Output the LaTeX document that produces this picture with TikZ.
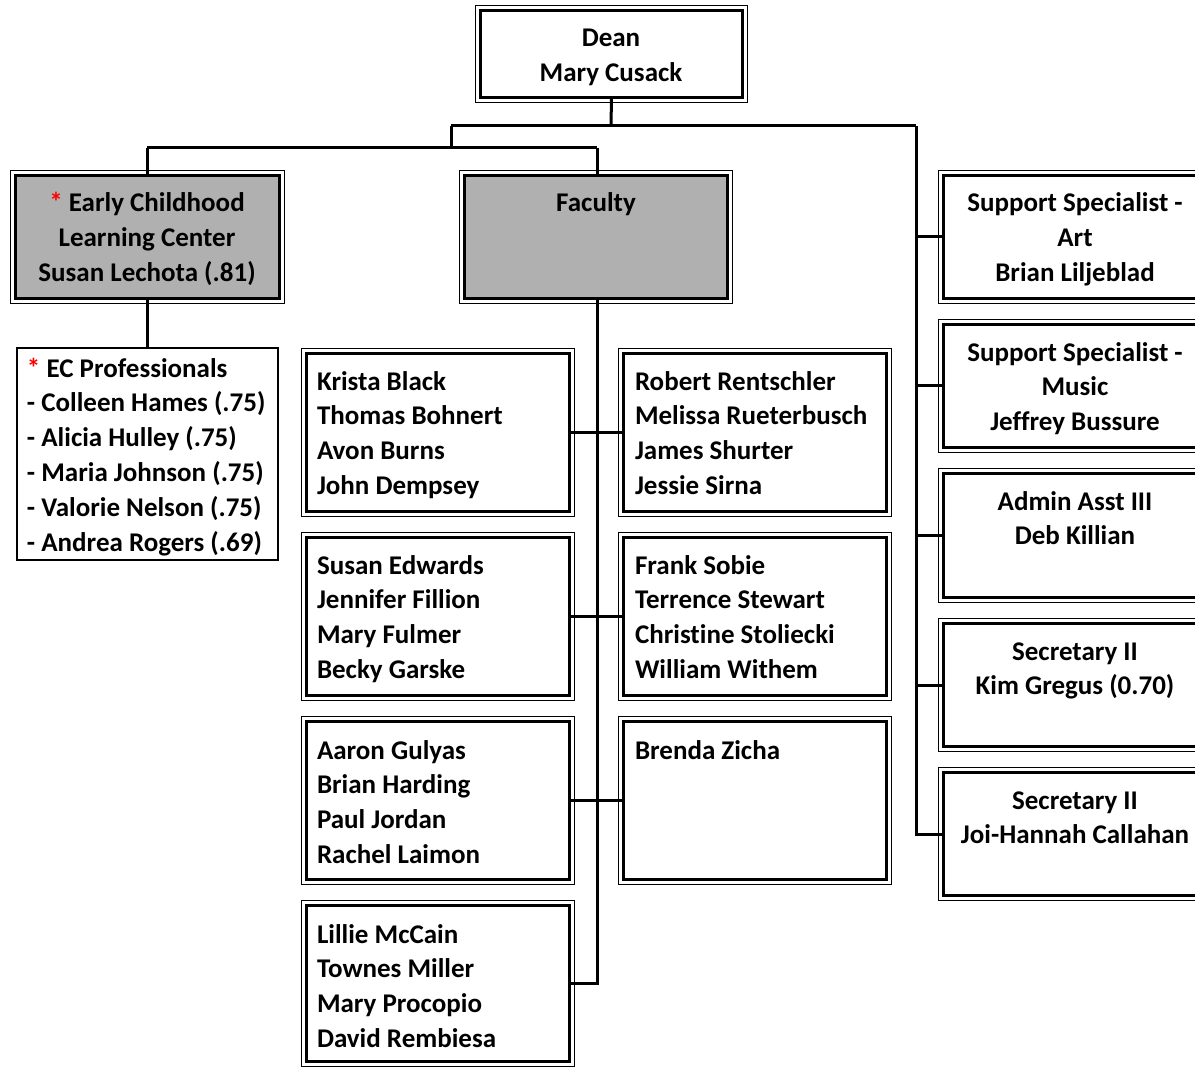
\documentclass[tikz,border=0pt]{standalone}
\usepackage{fontspec}
\setmainfont[Ligatures={NoCommon,NoDiscretionary}]{Carlito}
\begin{document}
\begin{tikzpicture}[x=1pt,y=-1pt,
  frame/.style={draw,line width=3.5pt,inner sep=0pt,outer sep=0pt},
  grayframe/.style={frame,fill=gray!62},
  txt/.style={inner sep=0pt,outer sep=0pt,font={\fontsize{27}{34.8}\selectfont\bfseries}},
  conn/.style={line width=3pt}]
\useasboundingbox (0,0) rectangle (1195,1067);
\clip (0,0) rectangle (1195,1067);
% boxes
\node[frame,minimum width=262pt,minimum height=87pt] (dean) at (611.5,54) {};
\node[grayframe,minimum width=264pt,minimum height=123pt] (eclc) at (147.5,237) {};
\node[grayframe,minimum width=263pt,minimum height=123pt] (fac) at (596,237) {};
\node[draw,line width=1.3pt,inner sep=0pt,minimum width=261pt,minimum height=212pt] (ecp) at (147.5,454) {};
\node[frame,minimum width=263pt,minimum height=158pt] (L1) at (438,432.5) {};
\node[frame,minimum width=263pt,minimum height=158pt] (L2) at (438,616.5) {};
\node[frame,minimum width=263pt,minimum height=158pt] (L3) at (438,800.5) {};
\node[frame,minimum width=263pt,minimum height=156pt] (L4) at (438,983.5) {};
\node[frame,minimum width=263pt,minimum height=158pt] (R1) at (755,432.5) {};
\node[frame,minimum width=263pt,minimum height=158pt] (R2) at (755,616.5) {};
\node[frame,minimum width=263pt,minimum height=158pt] (R3) at (755,800.5) {};
\node[frame,minimum width=263pt,minimum height=123pt] (S1) at (1075,237) {};
\node[frame,minimum width=263pt,minimum height=123pt] (S2) at (1075,386) {};
\node[frame,minimum width=263pt,minimum height=124pt] (S3) at (1075,535.5) {};
\node[frame,minimum width=263pt,minimum height=123pt] (S4) at (1075,685) {};
\node[frame,minimum width=263pt,minimum height=123pt] (S5) at (1075,834) {};
% outer thin frames
\foreach \n in {dean,eclc,fac,L1,L2,L3,L4,R1,R2,R3,S1,S2,S3,S4,S5}
  \draw[line width=1.2pt] ([xshift=-5.3pt,yshift=5.3pt]\n.north west) rectangle ([xshift=5.3pt,yshift=-5.3pt]\n.south east);
% junctions
\coordinate (jd) at (611,126);
\coordinate (ja) at (451,126);
\coordinate (jr) at (916,126);
\coordinate (jb) at (451,148);
\coordinate (jl) at (147,148);
\coordinate (jf) at (597,148);
\coordinate (jfb) at (597,983.5);
% connectors
\draw[conn] (dean.south) -- (jd);
\draw[conn] (ja) -- (jr);
\draw[conn] (ja) -- (jb);
\draw[conn] (jl) -- (jf);
\draw[conn] (jl) -- (eclc.north -| jl);
\draw[conn] (jf) -- (fac.north -| jf);
\draw[conn] (eclc.south -| jl) -- (ecp.north -| jl);
\draw[conn] (fac.south -| jf) -- (jfb) -- (L4.east);
\draw[conn] (L1.east) -- (R1.west);
\draw[conn] (L2.east) -- (R2.west);
\draw[conn] (L3.east) -- (R3.west);
\draw[conn] (jr) -- (jr |- S5.west) -- (S5.west);
\foreach \n in {S1,S2,S3,S4} \draw[conn] (jr |- \n.west) -- (\n.west);
% texts (base anchor = baseline of last line)
\node[txt,align=center,anchor=base] (tdean) at (611,81.8) {Dean\\Mary Cusack};
\node[txt,align=center,anchor=base] (teclc) at (147,281.6) {{\color{red}*} Early Childhood\\Learning Center\\Susan Lechota (.81)};
\node[txt,align=center,anchor=base] (tfac) at (596,212) {Faculty};
\node[txt,align=left,anchor=base west] (tecp) at (27,551) {{\color{red}*} EC Professionals\\- Colleen Hames (.75)\\- Alicia Hulley (.75)\\- Maria Johnson (.75)\\- Valorie Nelson (.75)\\- Andrea Rogers (.69)};
\node[txt,align=left,anchor=base west] (tL1) at (317,494.4) {Krista Black\\Thomas Bohnert\\Avon Burns\\John Dempsey};
\node[txt,align=left,anchor=base west] (tL2) at (317,678.4) {Susan Edwards\\Jennifer Fillion\\Mary Fulmer\\Becky Garske};
\node[txt,align=left,anchor=base west] (tL3) at (317,863.4) {Aaron Gulyas\\Brian Harding\\Paul Jordan\\Rachel Laimon};
\node[txt,align=left,anchor=base west] (tL4) at (317,1047.4) {Lillie McCain\\Townes Miller\\Mary Procopio\\David Rembiesa};
\node[txt,align=left,anchor=base west] (tR1) at (635,494.4) {Robert Rentschler\\Melissa Rueterbusch\\James Shurter\\Jessie Sirna};
\node[txt,align=left,anchor=base west] (tR2) at (635,678.4) {Frank Sobie\\Terrence Stewart\\Christine Stoliecki\\William Withem};
\node[txt,align=left,anchor=base west] (tR3) at (635,759) {Brenda Zicha};
\node[txt,align=center,anchor=base] (tS1) at (1075,281.6) {Support Specialist -\\Art\\Brian Liljeblad};
\node[txt,align=center,anchor=base] (tS2) at (1075,430.6) {Support Specialist -\\Music\\Jeffrey Bussure};
\node[txt,align=center,anchor=base] (tS3) at (1075,544.8) {Admin Asst III\\Deb Killian};
\node[txt,align=center,anchor=base] (tS4) at (1075,694.8) {Secretary II\\Kim Gregus (0.70)};
\node[txt,align=center,anchor=base] (tS5) at (1075,843.8) {Secretary II\\Joi-Hannah Callahan};
\end{tikzpicture}
\end{document}
